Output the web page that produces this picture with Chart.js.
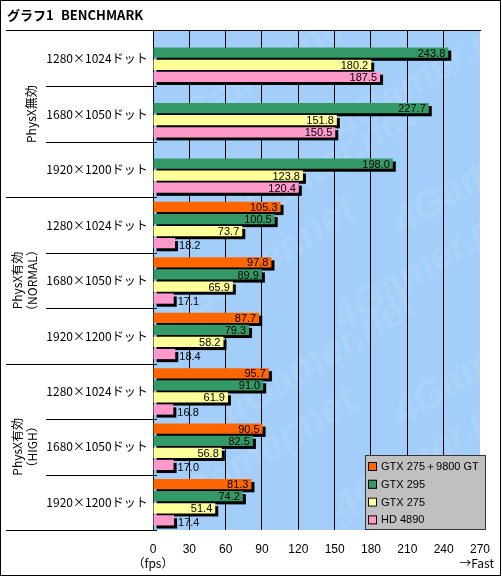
<!DOCTYPE html>
<html><head><meta charset="utf-8">
<script src="https://cdn.jsdelivr.net/npm/chart.js@4/dist/chart.umd.min.js"></script>
<style>html,body{margin:0;padding:0;background:#fff}canvas{display:block}</style>
</head><body>
<canvas id="c" width="502" height="577" style="width:502px;height:577px"></canvas>
<script>
const categories = ["1280×1024ドット","1680×1050ドット","1920×1200ドット","1280×1024ドット","1680×1050ドット","1920×1200ドット","1280×1024ドット","1680×1050ドット","1920×1200ドット"];
const groups = [["PhysX無効"],["PhysX有効","（NORMAL）"],["PhysX有効","（HIGH）"]];
const seriesNames = ["GTX 275＋9800 GT","GTX 295","GTX 275","HD 4890"];
const gtx275_9800 = [null,null,null,105.3,97.8,87.7,95.7,90.5,81.3];
const gtx295 = [243.8,227.7,198.0,100.5,89.9,79.3,91.0,82.5,74.2];
const gtx275 = [180.2,151.8,123.8,73.7,65.9,58.2,61.9,56.8,51.4];
const hd4890 = [187.5,150.5,120.4,18.2,17.1,18.4,16.8,17.0,17.4];
const xTicks = [0,30,60,90,120,150,180,210,240,270];
const titleA = "グラフ1";
const titleB = "BENCHMARK";
const unitLabel = "（fps）";
const dirLabel = "→Fast";

const colors = ["#FF6600","#339966","#FFFF99","#FF99CC"];
const seriesData = [gtx275_9800,gtx295,gtx275,hd4890];
const JP = '"Noto Sans CJK JP", "Liberation Sans", sans-serif';
const NUM = '"Liberation Sans", "DejaVu Sans", sans-serif';

const decor = {
  id:'decor',
  beforeDraw(chart){
    const {ctx, chartArea:a} = chart;
    ctx.save();
    ctx.fillStyle = '#fff';
    ctx.fillRect(0,0,chart.width,chart.height);
    ctx.fillStyle = '#A2CEF9';
    ctx.fillRect(a.left, a.top, a.right-a.left, a.bottom-a.top);
    ctx.beginPath(); ctx.rect(a.left,a.top,a.right-a.left,a.bottom-a.top); ctx.clip();
    ctx.fillStyle = 'rgba(255,255,255,0.10)';
    ctx.font = 'bold italic 40px ' + NUM;
    for (let r=0;r<6;r++){
      for (let k=0;k<3;k++){
        ctx.save();
        ctx.translate(a.left + 20 + k*170 + (r%2)*60, a.top + 110 + r*95);
        ctx.rotate(-0.55);
        ctx.fillText('4Gamer.net',0,0);
        ctx.restore();
      }
    }
    ctx.restore();
  },
  beforeDatasetsDraw(chart){
    const ctx = chart.ctx;
    ctx.save();
    ctx.fillStyle = '#000';
    chart.data.datasets.forEach((ds,i)=>{
      const meta = chart.getDatasetMeta(i);
      meta.data.forEach((el,j)=>{
        if (ds.data[j]==null) return;
        const h = el.height;
        const x0 = el.base, x1 = el.x;
        ctx.fillRect(x0+3, el.y - h/2 + 3, x1-x0, h);
      });
    });
    ctx.restore();
  },
  afterDatasetsDraw(chart){
    const ctx = chart.ctx;
    ctx.save();
    ctx.font = '11px ' + NUM;
    ctx.fillStyle = '#000';
    ctx.textBaseline = 'middle';
    chart.data.datasets.forEach((ds,i)=>{
      const meta = chart.getDatasetMeta(i);
      meta.data.forEach((el,j)=>{
        const v = ds.data[j];
        if (v==null) return;
        const txt = v.toFixed(1);
        const w = ctx.measureText(txt).width;
        const barW = el.x - el.base;
        if (barW > w + 8){
          ctx.textAlign = 'right';
          ctx.fillText(txt, el.x - 3, el.y + 1);
        } else {
          ctx.textAlign = 'left';
          ctx.fillText(txt, el.x + 4, el.y + 3);
        }
      });
    });
    ctx.restore();
  },
  afterDraw(chart){
    const {ctx, chartArea:a} = chart;
    const y = chart.scales.y;
    ctx.save();
    ctx.strokeStyle = '#000'; ctx.lineWidth = 1;
    ctx.strokeRect(0.5,0.5,chart.width-2,chart.height-2);
    ctx.fillStyle = '#000';
    ctx.font = 'bold 13px ' + JP;
    ctx.textBaseline = 'middle'; ctx.textAlign = 'left';
    ctx.fillText(titleA, 7, 15);
    ctx.fillText(titleB, 61, 15);
    ctx.beginPath(); ctx.moveTo(6, a.top-0.5); ctx.lineTo(a.right+1, a.top-0.5); ctx.stroke();
    const n = categories.length;
    const step = (y.getPixelForValue(1) - y.getPixelForValue(0));
    for (let i=1;i<=n;i++){
      const yy = Math.round(y.getPixelForValue(i-1) + step/2) + 0.5;
      const x0 = (i%3===0) ? 6 : 46;
      ctx.beginPath(); ctx.moveTo(x0, yy); ctx.lineTo(a.left+4, yy); ctx.stroke();
    }
    ctx.font = '12px ' + JP;
    ctx.textAlign = 'center';
    categories.forEach((c,i)=>{
      ctx.fillText(c, 97, y.getPixelForValue(i));
    });
    groups.forEach((g,gi)=>{
      const yc = (y.getPixelForValue(gi*3) + y.getPixelForValue(gi*3+2))/2;
      const lines = g.length;
      g.forEach((t,li)=>{
        const xc = lines===1 ? 31 : (17 + li*15);
        ctx.save();
        ctx.translate(xc, yc);
        ctx.rotate(-Math.PI/2);
        ctx.textAlign='center'; ctx.textBaseline='middle';
        ctx.fillText(t,0,0);
        ctx.restore();
      });
    });
    ctx.font = '12px ' + JP;
    ctx.textAlign='center';
    ctx.fillText(unitLabel, chart.scales.x.getPixelForValue(0), 563);
    ctx.textAlign='right';
    ctx.fillText(dirLabel, 494, 563);
    const lx = 365, ly = 455, lw = 120, lh = 74;
    ctx.fillStyle = '#C0C0C0';
    ctx.fillRect(lx, ly, lw, lh);
    ctx.strokeStyle = '#333';
    ctx.strokeRect(lx+0.5, ly+0.5, lw, lh);
    ctx.font = '11px ' + NUM;
    ctx.textAlign = 'left'; ctx.textBaseline='middle';
    seriesNames.forEach((s,i)=>{
      const yy = ly + 11 + i*17.8;
      ctx.fillStyle = colors[i];
      ctx.fillRect(lx+3, yy-4, 9, 9);
      ctx.strokeStyle = '#000';
      ctx.strokeRect(lx+3.5, yy-3.5, 8, 8);
      ctx.fillStyle = '#000';
      ctx.fillText(s, lx+16, yy+1);
    });
    ctx.restore();
  }
};

new Chart(document.getElementById('c'), {
  type:'bar',
  data:{
    labels: categories,
    datasets: seriesNames.map((s,i)=>({
      label:s, data: seriesData[i], backgroundColor: colors[i], borderWidth:0,
      categoryPercentage:0.87, barPercentage:0.85
    }))
  },
  options:{
    indexAxis:'y',
    responsive:false,
    devicePixelRatio:1,
    animation:false,
    layout:{padding:{left:153, right:17, top:31, bottom:0}},
    plugins:{legend:{display:false}, tooltip:{enabled:false}},
    scales:{
      y:{display:false},
      x:{
        min:0, max:270,
        afterBuildTicks(s){ s.ticks = xTicks.map(v=>({value:v})); },
        afterFit(s){ s.height = 47; },
        ticks:{padding:12, color:'#000', font:{family:NUM, size:12}, maxRotation:0, autoSkip:false},
        grid:{drawTicks:false, color:(c)=> (c.tick && c.tick.value===270) ? 'rgba(0,0,0,0)' : '#000', lineWidth:1},
        border:{display:false}
      }
    }
  },
  plugins:[decor]
});
</script>
</body></html>
